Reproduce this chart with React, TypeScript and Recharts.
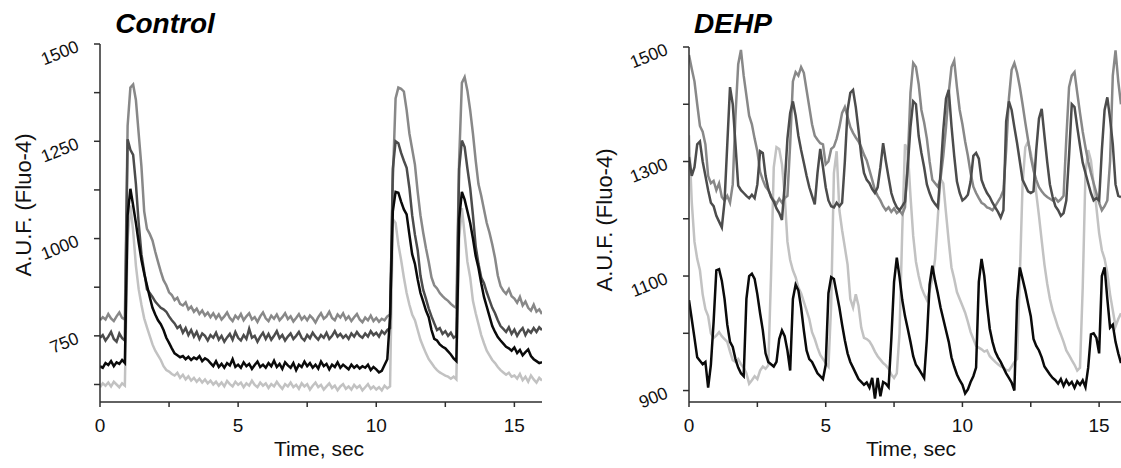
import { LineChart, Line, XAxis, YAxis } from "recharts";

const SAMPLE_SEC = 0.1;

// Control, t = 0 .. 16 s
const controlMid = [
  790, 798, 792, 806, 795, 788, 800, 810, 796, 792,
  1290, 1388, 1396, 1356, 1270, 1185, 1070, 1025, 1012, 995,
  966, 940, 915, 893, 880, 862, 855, 842, 848, 832,
  828, 836, 818, 825, 812, 820, 806, 815, 802, 810,
  798, 808, 795, 805, 792, 800, 810, 796, 788, 802,
  794, 806, 790, 800, 808, 792, 798, 786, 800, 810,
  795, 788, 802, 794, 805, 790, 798, 808, 793, 800,
  787, 796, 806, 792, 800, 790, 802, 795, 784, 798,
  808, 794, 800, 812, 796, 790, 805, 797, 808, 792,
  800, 788, 798, 806, 792, 785, 797, 790, 802, 788,
  796, 786, 794, 790, 800, 805, 1150, 1360, 1388, 1385,
  1378, 1330, 1270, 1230, 1190, 1120, 1060, 1015, 975, 940,
  900, 880, 872, 860, 852, 845, 840, 832, 826, 822,
  1200, 1400, 1415, 1380, 1330, 1270, 1200, 1140, 1110, 1075,
  1040, 1015, 985, 950, 905, 878, 866, 858, 870, 852,
  846, 835, 850, 828, 838, 822, 815, 830, 812, 818,
  806,
];
const controlDark = [
  745, 752, 738, 748, 760, 742, 735, 756, 744, 738,
  1255, 1228, 1215, 1140, 1040, 960, 915, 870, 860, 850,
  838, 830, 822, 818, 812, 800, 790, 782, 770, 776,
  758, 770, 752, 765, 748, 760, 742, 756, 750, 738,
  752, 745, 758, 740, 750, 735, 746, 755, 740, 760,
  745, 738, 752, 742, 768, 745, 750, 735, 748, 758,
  742, 755, 740, 750, 762, 744, 752, 738, 748, 756,
  742, 750, 760, 745, 738, 752, 744, 758, 748, 740,
  752, 745, 758, 742, 750, 762, 748, 755, 745, 752,
  742, 756, 748, 760, 750, 745, 756, 748, 762, 752,
  758, 748, 762, 755, 765, 770, 1180, 1250, 1245, 1220,
  1200, 1182, 1130, 1060, 1010, 970, 905, 868, 845, 820,
  800, 782, 765, 770, 755, 762, 750, 758, 745, 750,
  1180, 1252, 1235, 1180, 1130, 1060, 980, 935, 900, 885,
  862, 842, 822, 808, 790, 775, 768, 760, 772, 755,
  766, 750, 762, 770, 752, 765, 758, 770, 760, 772,
  765,
];
const controlBlack = [
  672, 668, 680, 675, 685, 672, 682, 678, 688, 680,
  1060, 1128, 1085, 1040, 990, 945, 910, 880, 850, 822,
  805, 790, 780, 765, 745, 732, 718, 705, 700, 695,
  698, 690, 696, 688, 694, 690, 698, 685, 692, 688,
  680, 672, 685, 670, 678, 668, 680, 674, 690, 670,
  676, 668, 682, 672, 678, 665, 675, 684, 670, 676,
  668, 680, 672, 686, 670, 678, 665, 682, 674, 668,
  680, 662, 676, 670, 684, 672, 680, 668, 676, 666,
  684, 672, 678, 664, 676, 670, 682, 668, 676, 670,
  664, 676, 668, 674, 666, 672, 668, 676, 662, 670,
  664, 656, 660, 675, 690, 800, 1070, 1120, 1118, 1095,
  1075, 1062, 1010, 960, 935, 895, 860, 838, 815, 798,
  765, 742, 738, 728, 722, 718, 710, 702, 692, 685,
  1050, 1120, 1100, 1070, 1040, 1000, 955, 925, 885, 850,
  825, 800, 775, 760, 747, 738, 730, 722, 718, 712,
  720, 706, 714, 700, 708, 715, 698, 690, 685, 680,
  682,
];
const controlLight = [
  618, 628, 622, 630, 620, 632, 625, 618, 628, 622,
  1000, 1085, 1020, 930, 870, 830, 795, 772, 750, 728,
  712, 700, 688, 672, 662, 658, 652, 648, 655, 642,
  650, 638, 646, 635, 642, 632, 640, 630, 638, 628,
  635, 625, 632, 622, 630, 620, 634, 626, 620, 632,
  624, 630, 618, 628, 622, 635, 624, 618, 630, 622,
  628, 616, 626, 620, 632, 622, 614, 626, 620, 630,
  618, 624, 614, 628, 620, 626, 612, 622, 630, 618,
  624, 612, 620, 628, 616, 622, 610, 620, 626, 614,
  620, 612, 624, 616, 622, 610, 618, 626, 614, 620,
  612, 618, 610, 622, 615, 620, 1050, 1040, 985, 945,
  900, 860, 830, 805, 790, 765, 740, 722, 705, 690,
  680, 670, 662, 656, 652, 648, 645, 640, 645, 638,
  1000, 1078, 1010, 940, 900, 840, 808, 780, 752, 731,
  712, 700, 688, 680, 670, 662, 656, 650, 655, 645,
  648, 640, 652, 636, 645, 632, 648, 638, 630, 642,
  635,
];

// DEHP, t = 0 .. 15.8 s
const dehpMid = [
  1486, 1462, 1440, 1400, 1362, 1352, 1330, 1275, 1262, 1266,
  1250, 1262, 1238, 1232, 1240, 1228, 1260, 1380, 1470, 1495,
  1450, 1415, 1380, 1365, 1340, 1318, 1282, 1268, 1256, 1250,
  1240, 1232, 1226, 1235, 1228, 1236, 1240, 1330, 1440, 1456,
  1450, 1465, 1455, 1425, 1395, 1365, 1345, 1338, 1332, 1330,
  1295, 1300, 1322, 1326, 1340, 1360, 1385, 1395, 1378, 1360,
  1350, 1342, 1335, 1325, 1312, 1302, 1285, 1268, 1250, 1240,
  1232, 1222, 1215, 1220, 1212, 1218, 1210, 1214, 1208, 1220,
  1300, 1420, 1472, 1465, 1435, 1390, 1368, 1340, 1300, 1268,
  1262, 1256, 1270, 1310, 1360, 1420, 1465, 1476, 1430, 1390,
  1365, 1335, 1310, 1280, 1256, 1245, 1236, 1228, 1225, 1220,
  1218, 1215, 1222, 1230, 1238, 1250, 1320, 1410, 1460, 1472,
  1455, 1430, 1400, 1368, 1338, 1308, 1285, 1268, 1255, 1248,
  1242, 1238, 1235, 1232, 1236, 1230, 1234, 1240, 1340, 1430,
  1450, 1456, 1420, 1385, 1352, 1325, 1300, 1280, 1262, 1245,
  1228, 1215, 1222, 1232, 1300, 1450, 1494, 1440, 1400,
];
const dehpDark = [
  1308, 1275, 1290, 1330, 1335, 1300, 1275, 1250, 1228, 1222,
  1205, 1195, 1185, 1230, 1330, 1430, 1400, 1330, 1258, 1250,
  1245, 1240, 1236, 1242, 1236, 1260, 1318, 1315, 1275, 1252,
  1238, 1230, 1218, 1210, 1198, 1260, 1340, 1385, 1405, 1380,
  1345, 1320, 1298, 1275, 1255, 1240, 1225, 1280, 1322, 1290,
  1255, 1232, 1222, 1220, 1228, 1222, 1228, 1300, 1390, 1420,
  1425, 1395, 1355, 1310, 1280, 1268, 1262, 1252, 1245, 1255,
  1290, 1332, 1300, 1272, 1245, 1230, 1220, 1215, 1222, 1230,
  1290, 1360, 1405, 1400, 1345, 1315, 1290, 1260, 1245, 1233,
  1226, 1220, 1280, 1355, 1410, 1425, 1362, 1310, 1265, 1245,
  1232, 1236, 1242, 1265, 1310, 1315, 1305, 1268, 1255, 1245,
  1238, 1228, 1220, 1212, 1202, 1215, 1370, 1405, 1390, 1360,
  1332, 1300, 1268, 1258, 1248, 1245, 1248, 1320, 1375, 1392,
  1345, 1300, 1260, 1238, 1222, 1215, 1205, 1210, 1232, 1310,
  1400, 1395, 1360, 1328, 1298, 1280, 1262, 1245, 1232, 1236,
  1232, 1320, 1390, 1412, 1375, 1330, 1260, 1240, 1238,
];
const dehpLight = [
  1346, 1230, 1160, 1130, 1110, 1068, 1042, 1030, 1000, 992,
  996, 1002, 995, 990, 985, 968, 953, 950, 955, 946,
  940, 930, 912, 918, 925, 920, 935, 942, 938, 944,
  1100, 1290, 1325, 1322, 1295, 1240, 1160, 1128, 1110, 1098,
  1080, 1070, 1055, 1040, 1025, 1002, 990, 975, 962, 955,
  948, 942, 1050, 1280, 1318, 1215, 1180, 1150, 1120, 1060,
  1045, 1068, 1048, 1010, 992, 990, 986, 978, 968, 960,
  954, 948, 944, 938, 928, 922, 930, 1000, 1180, 1330,
  1320, 1240, 1170, 1125, 1100, 1080, 1068, 1058, 1075, 1095,
  1130, 1203, 1270, 1262, 1210, 1160, 1115, 1095, 1072, 1060,
  1048, 1036, 1020, 1002, 990, 978, 975, 972, 968, 970,
  960, 955, 950, 946, 942, 940, 936, 935, 942, 950,
  955, 1100, 1260, 1325, 1335, 1315, 1290, 1245, 1205, 1162,
  1120, 1087, 1060, 1040, 1025, 1010, 998, 985, 970, 962,
  953, 945, 935, 940, 1080, 1280, 1320, 1302, 1260, 1220,
  1175, 1145, 1130, 1105, 1068, 1040, 1012, 1025, 1035,
];
const dehpBlack = [
  1058, 1025, 992, 958, 952, 946, 950, 905, 945, 1020,
  1110, 1112, 1092, 1060, 1015, 985, 976, 955, 940, 930,
  925, 1060, 1100, 1104, 1095, 1068, 1035, 1005, 965, 950,
  946, 942, 950, 990, 1005, 995, 970, 935, 1060, 1085,
  1075, 1045, 1005, 970, 955, 950, 940, 930, 925, 920,
  945, 1070, 1098, 1095, 1070, 1045, 1015, 988, 965, 950,
  940, 930, 920, 915, 910, 914, 905, 922, 886, 922,
  890, 915, 912, 906, 990, 1090, 1132, 1098, 1058, 1030,
  1008, 985, 960, 945, 938, 930, 922, 990, 1085, 1118,
  1092, 1070, 1045, 1025, 1005, 985, 958, 942, 928, 918,
  910, 895, 902, 915, 925, 940, 1090, 1130, 1100, 1050,
  1008, 985, 968, 958, 950, 940, 930, 922, 914, 900,
  1058, 1115, 1095, 1075, 1052, 1030, 990, 978, 970, 958,
  942, 935, 928, 922, 918, 912, 920, 908, 918, 910,
  915, 905, 916, 910, 918, 906, 940, 998, 1000, 992,
  965, 1100, 1115, 1060, 1010, 1015, 985, 965, 948,
];

const timeTicks = [0, 2.5, 5, 7.5, 10, 12.5, 15];
const controlTicks = [625, 750, 875, 1000, 1125, 1250, 1375, 1500];
const controlLabels = [750, 1000, 1250, 1500];
const dehpTicks = [900, 1000, 1100, 1200, 1300, 1400, 1500];
const dehpLabels = [900, 1100, 1300, 1500];
const timeLabels = [0, 5, 10, 15];

const FONT = "'Liberation Sans', Arial, Helvetica, sans-serif";
const INK = "#111111";
const AXIS = "#2e2e2e";
const MID = "#888888";
const DARK = "#4c4c4c";
const BLACK = "#0a0a0a";
const LIGHT = "#c2c2c2";
const STROKE = 2.5;

function buildRows(mid: number[], dark: number[], black: number[], light: number[]) {
  return mid.map((v, i) => ({
    t: Math.round(i * SAMPLE_SEC * 10) / 10,
    mid: v,
    dark: dark[i],
    black: black[i],
    light: light[i],
  }));
}

const controlRows = buildRows(controlMid, controlDark, controlBlack, controlLight);
const dehpRows = buildRows(dehpMid, dehpDark, dehpBlack, dehpLight);

const yTick = (labels: number[]) => (props: any) => {
  const { x, y, payload } = props;
  if (!labels.includes(payload.value)) return <g />;
  const ax = x - 14;
  const ay = y + 7;
  return (
    <text
      x={ax}
      y={ay}
      textAnchor="end"
      fontSize={17.5}
      fontFamily={FONT}
      fill={INK}
      transform={`rotate(-22 ${ax} ${ay})`}
    >
      {payload.value}
    </text>
  );
};

const xTick = (props: any) => {
  const { x, y, payload } = props;
  if (!timeLabels.includes(payload.value)) return <g />;
  return (
    <text x={x} y={y + 25} textAnchor="middle" fontSize={19} fontFamily={FONT} fill={INK}>
      {payload.value}
    </text>
  );
};

function Panel(props: {
  rows: any[];
  left: number;
  width: number;
  top: number;
  right: number;
  xMax: number;
  yDomain: [number, number];
  yTicks: number[];
  yLabels: number[];
}) {
  const { rows, left, width, top, right, xMax, yDomain, yTicks, yLabels } = props;
  return (
    <div style={{ position: "absolute", left, top: 0 }}>
      <LineChart width={width} height={468} data={rows} margin={{ top, right, bottom: 0, left: 0 }}>
        <XAxis
          dataKey="t"
          type="number"
          domain={[0, xMax]}
          allowDataOverflow
          ticks={timeTicks}
          interval={0}
          height={66}
          tickSize={5}
          tickMargin={0}
          tick={xTick}
          stroke={AXIS}
          strokeWidth={1.5}
        />
        <YAxis
          type="number"
          domain={yDomain}
          allowDataOverflow
          ticks={yTicks}
          interval={0}
          width={100}
          tickSize={6}
          tickMargin={0}
          tick={yTick(yLabels)}
          stroke={AXIS}
          strokeWidth={1.5}
        />
        <Line type="linear" dataKey="light" stroke={LIGHT} strokeWidth={STROKE} dot={false} isAnimationActive={false} />
        <Line type="linear" dataKey="mid" stroke={MID} strokeWidth={STROKE} dot={false} isAnimationActive={false} />
        <Line type="linear" dataKey="dark" stroke={DARK} strokeWidth={STROKE} dot={false} isAnimationActive={false} />
        <Line type="linear" dataKey="black" stroke={BLACK} strokeWidth={STROKE} dot={false} isAnimationActive={false} />
      </LineChart>
    </div>
  );
}

export default function App() {
  return (
    <div style={{ position: "absolute", left: 0, top: 0, width: 1121, height: 468, background: "#fff", overflow: "hidden" }}>
      <Panel
        rows={controlRows}
        left={0}
        width={560}
        top={44}
        right={18}
        xMax={16}
        yDomain={[580, 1500]}
        yTicks={controlTicks}
        yLabels={controlLabels}
      />
      <Panel
        rows={dehpRows}
        left={589}
        width={532}
        top={47}
        right={0}
        xMax={15.8}
        yDomain={[880, 1500]}
        yTicks={dehpTicks}
        yLabels={dehpLabels}
      />
      <svg
        width={1121}
        height={468}
        style={{ position: "absolute", left: 0, top: 0, pointerEvents: "none" }}
        fontFamily={FONT}
        fill={INK}
      >
        <text x={165} y={33} textAnchor="middle" fontSize={28} fontWeight="bold" fontStyle="italic" fill="#000">
          Control
        </text>
        <text x={733} y={33} textAnchor="middle" fontSize={28} fontWeight="bold" fontStyle="italic" fill="#000">
          DEHP
        </text>
        <text x={31} y={205} textAnchor="middle" fontSize={22} transform="rotate(-90 31 205)">
          A.U.F. (Fluo-4)
        </text>
        <text x={612} y={220} textAnchor="middle" fontSize={22} transform="rotate(-90 612 220)">
          A.U.F. (Fluo-4)
        </text>
        <text x={319} y={456} textAnchor="middle" fontSize={21}>
          Time, sec
        </text>
        <text x={911} y={456} textAnchor="middle" fontSize={21}>
          Time, sec
        </text>
      </svg>
    </div>
  );
}
